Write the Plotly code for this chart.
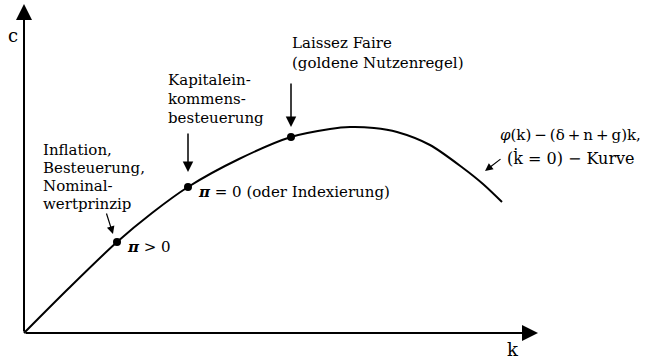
import plotly.graph_objects as go

# Kurve c = phi(k) - (delta+n+g)k (Einheiten ~ Pixel ab Ursprung)
K_CURVE = [0, 45, 93, 128, 164, 215, 267, 306, 326, 350, 373, 406, 439, 459, 478]
C_CURVE = [0, 45, 91, 120, 146, 174, 196, 204, 206, 205, 201, 188, 165, 149, 131]

# markierte Gleichgewichte: pi > 0, pi = 0, Laissez faire
K_POINTS = [93, 164, 267]
C_POINTS = [91, 146, 196]

K_MAX = 514
C_MAX = 329

FONT = "DejaVu Serif"
FS = 15

fig = go.Figure()

fig.add_trace(go.Scatter(
    x=K_CURVE, y=C_CURVE, mode="lines",
    line=dict(color="black", width=2, shape="spline", smoothing=0.8),
    hoverinfo="skip",
))
fig.add_trace(go.Scatter(
    x=K_POINTS, y=C_POINTS, mode="markers",
    marker=dict(color="black", size=8),
    hoverinfo="skip",
))

ann = []


def arrow(x0, y0, x1, y1, width=1.5, size=1.4, head=2):
    ann.append(dict(
        x=x1, y=y1, ax=x0, ay=y0, xref="x", yref="y", axref="x", ayref="y",
        text="", showarrow=True, arrowhead=head, arrowsize=size,
        arrowwidth=width, arrowcolor="black", standoff=0,
    ))


def label(x, y, text, xanchor="left", size=FS, align="left"):
    ann.append(dict(
        x=x, y=y, xref="x", yref="y", text=text, showarrow=False,
        xanchor=xanchor, yanchor="middle", align=align,
        font=dict(family=FONT, size=size, color="black"),
    ))


# Achsen
arrow(0, 0, 0, C_MAX, width=2, size=1.6)
arrow(0, 0, K_MAX, 0, width=2, size=1.6)
label(-11, 298, "c", xanchor="center", size=18)
label(489, -16, "k", xanchor="center", size=18)

# Pfeile zu den Punkten
arrow(267, 251, 267, 206)
arrow(164, 201, 164, 161)
arrow(82, 121, 89, 99, width=1.2, size=1.3)
arrow(478, 175, 461, 162, width=1.2, size=1.3)

# Beschriftungen
for i, t in enumerate(["Inflation,", "Besteuerung,", "Nominal-", "wertprinzip"]):
    label(17, 183 - 18 * i, t)
for i, t in enumerate(["Kapitalein-", "kommens-", "besteuerung"]):
    label(142, 253 - 19 * i, t)
label(266, 290, "Laissez Faire")
label(266, 270, "(goldene Nutzenregel)")
label(172, 141, "<b><i>π</i></b> = 0 (oder Indexierung)")
label(101, 86, "<b><i>π</i></b> > 0")
label(546, 198, "<i>φ</i>(k)\u2009−\u2009(δ\u2009+\u2009n\u2009+\u2009g)k,", xanchor="center")
label(547, 175, "(k̇ = 0) − Kurve", xanchor="center", size=16)

fig.update_layout(
    width=647, height=360,
    margin=dict(l=0, r=0, t=0, b=0),
    plot_bgcolor="white", paper_bgcolor="white",
    showlegend=False,
    annotations=ann,
    xaxis=dict(range=[-24, 623], visible=False, fixedrange=True),
    yaxis=dict(range=[-27, 333], visible=False, fixedrange=True),
)

fig.write_html("out.html", config={"displayModeBar": False},
               post_script="document.body.style.margin='0';")
